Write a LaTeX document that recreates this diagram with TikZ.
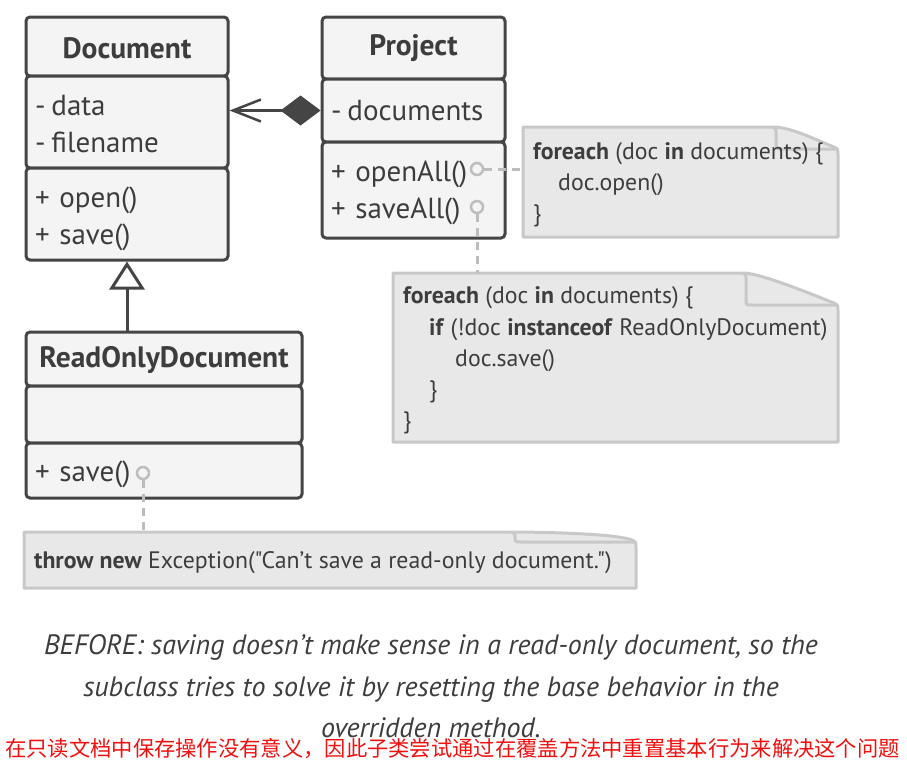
\documentclass[tikz,border=0pt]{standalone}
\usepackage{fontspec}
\setmainfont{PT Sans}
\newfontfamily\ptsans{PT Sans}
\newfontfamily\cjk{Noto Sans CJK SC}
\usetikzlibrary{arrows.meta}
\definecolor{ink}{HTML}{3D3D3D}
\definecolor{boxline}{HTML}{454545}
\definecolor{boxfill}{HTML}{F4F4F4}
\definecolor{notefill}{HTML}{E8E8E8}
\definecolor{noteline}{HTML}{C8C8C8}
\definecolor{dashc}{HTML}{BDBDBD}
\definecolor{cnred}{HTML}{F01010}
\newcommand\drawnote[6]{%
  \draw[noteshape] (#1,#2) -- (#5,#2) .. controls (#5+18,#2) and (#3-22,#6-12) .. (#3-4,#6-5)
     .. controls (#3,#6-3) .. (#3,#6+3) -- (#3,#4) -- (#1,#4) -- cycle;
  \draw[noteline, line width=3pt, line join=round] (#5,#2) .. controls (#5+3,#2+2) .. (#5+3,#2+6) -- (#5+3,#6-8)
     .. controls (#5+3,#6-3) .. (#5+9,#6-3) -- (#3-2,#6-3);
}
\newcommand\lift[1]{\rule{0pt}{#1pt}}
\begin{document}
\begin{tikzpicture}[x=1pt,y=-1pt,
  sect/.style={draw=boxline, fill=boxfill, line width=3pt, rounded corners=4pt, inner xsep=9pt, inner ysep=0pt,
     text=ink, align=left, font=\ptsans\fontsize{29}{37}\selectfont},
  ttl/.style={sect, align=center, font=\ptsans\fontsize{29.5}{32}\selectfont\bfseries},
  dot/.style={circle, draw=dashc, fill=boxfill, line width=2.5pt, minimum size=12pt, inner sep=0pt},
  dashline/.style={draw=dashc, line width=3pt, dash pattern=on 8pt off 6pt},
  noteshape/.style={draw=noteline, fill=notefill, line width=3pt, line join=round},
  notearea/.style={inner sep=0pt},
  notetext/.style={anchor=west, inner sep=0pt, align=left, text=ink, font=\ptsans\fontsize{23.8}{31.2}\selectfont},
  conn/.style={draw=boxline, line width=3pt}
]
\useasboundingbox (0,0) rectangle (907,763);

% notes
\drawnote{523}{127}{838}{237}{773}{152}
\node[notearea, minimum width=315pt, minimum height=110pt] (n1) at (680.5,182) {};
\node[notetext] (t1) at (533,185) {\textbf{foreach} (doc \textbf{in} documents) \{\\\hspace*{25pt}doc.open()\\\}};

\drawnote{393}{273}{838}{442}{743}{308}
\node[notearea, minimum width=445pt, minimum height=169pt] (n2) at (615.5,357.5) {};
\node[notetext] (t2) at (403,360.5) {\textbf{foreach} (doc \textbf{in} documents) \{\\
\hspace*{26pt}\textbf{if} (!doc \textbf{instanceof} ReadOnlyDocument)\\
\hspace*{52pt}doc.save()\\
\hspace*{26pt}\}\\
\}};

\drawnote{24}{532}{636}{588}{512}{545}
\node[notearea, minimum width=612pt, minimum height=56pt] (n3) at (330,560) {};
\node[notetext] (t3) at (34,563) {\textbf{throw new} Exception("Can’t save a read-only document.")};

% Document
\node[ttl, minimum width=202pt, minimum height=59pt] (docH) at (127,46.5) {\lift{24}Document};
\node[sect, minimum width=202pt, minimum height=92pt, text width=184pt] (docA) at (127,122) {\lift{25}-\kern6pt data\\-\kern6pt filename};
\node[sect, minimum width=202pt, minimum height=92pt, text width=184pt] (docM) at (127,214) {\lift{31}+ open()\\+ save()};

% Project
\node[ttl, minimum width=183pt, minimum height=62pt] (prH) at (413.5,48) {Project};
\node[sect, minimum width=183pt, minimum height=63pt, text width=165pt] (prA) at (413.5,110.5) {-\kern6pt documents};
\node[sect, minimum width=183pt, minimum height=96pt, text width=165pt] (prM) at (413.5,190) {\lift{26}+ openAll()\\+ saveAll()};

% ReadOnlyDocument
\node[ttl, minimum width=276pt, minimum height=54pt] (roH) at (164,359) {\lift{24}ReadOnlyDocument};
\node[sect, minimum width=276pt, minimum height=57pt, text width=258pt] (roA) at (164,414.5) {};
\node[sect, minimum width=276pt, minimum height=55pt, text width=258pt] (roM) at (164,470.5) {\lift{29}+ save()};

% connectors
\draw[conn, {Diamond[length=40pt,width=30pt]}-{Straight Barb[length=28pt,width=22pt,line width=2.5pt]}] (prA.west) -- (prA.west -| docA.east);
\draw[conn, -{Triangle[open,length=28pt,width=35pt,line width=3pt,fill=white]}] (docM.south |- roH.north) -- (docM.south);

\node[dot] (c1) at (477,169) {};
\node[dot] (c2) at (477,207) {};
\node[dot] (c3) at (143,473) {};
\draw[dashline] (c1.east) -- (c1.east -| n1.west);
\draw[dashline] (c2.south) -- (c2.south |- n2.north);
\draw[dashline] (c3.south) -- (c3.south |- n3.north);

% caption
\node[align=center, text=ink, font=\ptsans\fontsize{28}{41.5}\selectfont\itshape] (cap) at (431,686.5)
 {BEFORE: saving doesn’t make sense in a read-only document, so the\\
  subclass tries to solve it by resetting the base behavior in the\\
  overridden method.};
\node[text=cnred, font=\cjk\fontsize{21.3}{26}\selectfont, inner sep=0pt] (cn) at (452.5,749)
 {在只读文档中保存操作没有意义，因此子类尝试通过在覆盖方法中重置基本行为来解决这个问题};
\end{tikzpicture}
\end{document}
